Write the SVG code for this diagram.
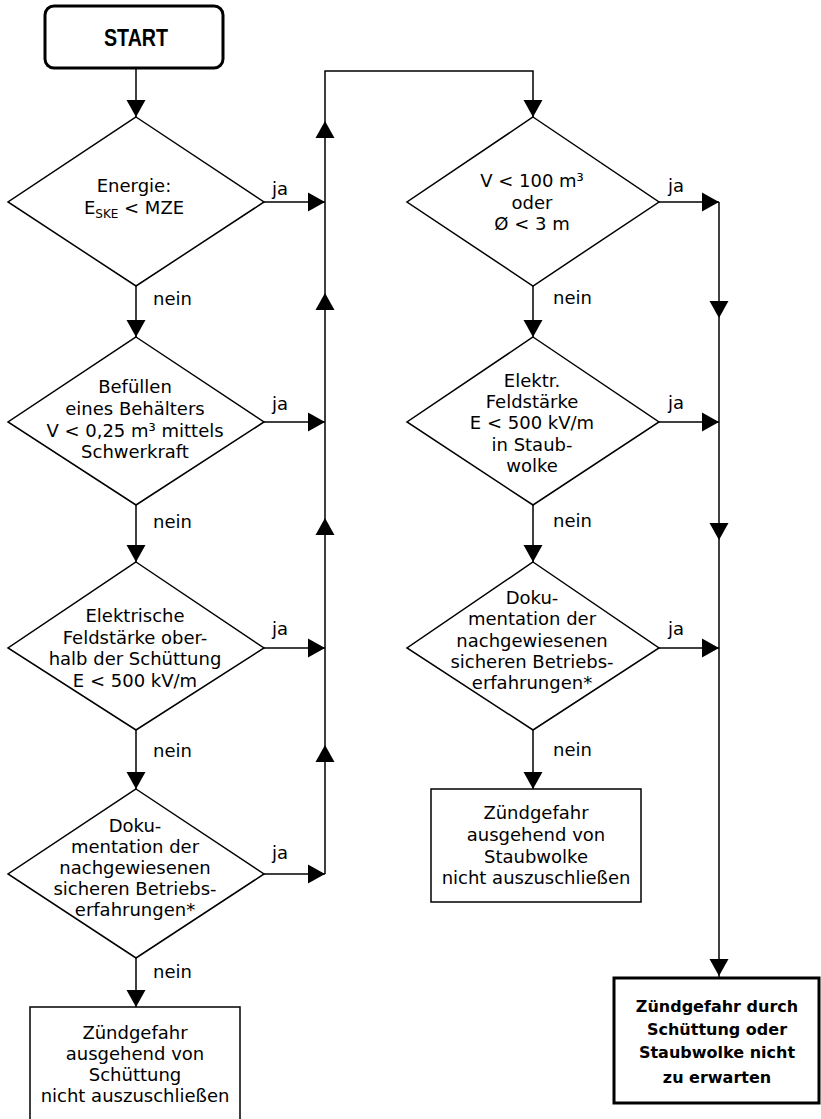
<svg xmlns="http://www.w3.org/2000/svg" xmlns:xlink="http://www.w3.org/1999/xlink" width="821" height="1119" viewBox="0 0 821 1119">
<style>
  .shape { fill: #fff; stroke: #000; stroke-width: 1.5; }
  .thick { fill: #fff; stroke: #000; stroke-width: 3; }
  .line { fill: none; stroke: #000; stroke-width: 1.5; }
  .t { font-family: "DejaVu Sans", "Liberation Sans", sans-serif; font-size: 18px; text-anchor: middle; fill: #000; }
  .lbl { font-family: "DejaVu Sans", "Liberation Sans", sans-serif; font-size: 18px; fill: #000; }
  .b { font-family: "DejaVu Sans", "Liberation Sans", sans-serif; font-size: 16px; font-weight: bold; text-anchor: middle; fill: #000; }
  .sub { font-size: 12px; }
</style>
<defs>
  <path id="ad" d="M0,0 L-9.5,-17 L9.5,-17 Z" fill="#000"/>
  <path id="au" d="M0,0 L-9.5,17 L9.5,17 Z" fill="#000"/>
  <path id="ar" d="M0,0 L-17,-9.5 L-17,9.5 Z" fill="#000"/>
</defs>
<rect width="821" height="1119" fill="#fff"/>

<g id="connectors">
  <path class="line" d="M136,68 V117"/>
  <path class="line" d="M136,286 V337"/>
  <path class="line" d="M136,505 V562"/>
  <path class="line" d="M136,730 V789"/>
  <path class="line" d="M136,958 V1007"/>
  <path class="line" d="M263,202 H325"/>
  <path class="line" d="M263,422 H325"/>
  <path class="line" d="M263,648 H325"/>
  <path class="line" d="M263,874 H325"/>
  <path class="line" d="M325,874 V71 H533 V117"/>
  <path class="line" d="M533,286 V337"/>
  <path class="line" d="M533,505 V562"/>
  <path class="line" d="M533,730 V789"/>
  <path class="line" d="M659,202 H719"/>
  <path class="line" d="M659,422 H719"/>
  <path class="line" d="M659,648 H719"/>
  <path class="line" d="M719,202 V977"/>
  <use xlink:href="#ad" x="136" y="117"/>
  <use xlink:href="#ad" x="136" y="337"/>
  <use xlink:href="#ad" x="136" y="562"/>
  <use xlink:href="#ad" x="136" y="789"/>
  <use xlink:href="#ad" x="136" y="1007"/>
  <use xlink:href="#ar" x="325" y="202"/>
  <use xlink:href="#ar" x="325" y="422"/>
  <use xlink:href="#ar" x="325" y="648"/>
  <use xlink:href="#ar" x="325" y="874"/>
  <use xlink:href="#au" x="325" y="121"/>
  <use xlink:href="#au" x="325" y="293"/>
  <use xlink:href="#au" x="325" y="518"/>
  <use xlink:href="#au" x="325" y="745"/>
  <use xlink:href="#ad" x="533" y="117"/>
  <use xlink:href="#ad" x="533" y="337"/>
  <use xlink:href="#ad" x="533" y="562"/>
  <use xlink:href="#ad" x="533" y="789"/>
  <use xlink:href="#ar" x="719" y="202"/>
  <use xlink:href="#ar" x="719" y="422"/>
  <use xlink:href="#ar" x="719" y="648"/>
  <use xlink:href="#ad" x="719" y="318"/>
  <use xlink:href="#ad" x="719" y="540"/>
  <use xlink:href="#ad" x="719" y="976"/>
  <text class="lbl" x="272" y="195">ja</text>
  <text class="lbl" x="272" y="410">ja</text>
  <text class="lbl" x="272" y="635">ja</text>
  <text class="lbl" x="272" y="859">ja</text>
  <text class="lbl" x="668" y="192">ja</text>
  <text class="lbl" x="668" y="409">ja</text>
  <text class="lbl" x="668" y="635">ja</text>
  <text class="lbl" x="153" y="305">nein</text>
  <text class="lbl" x="153" y="528">nein</text>
  <text class="lbl" x="153" y="757">nein</text>
  <text class="lbl" x="153" y="978">nein</text>
  <text class="lbl" x="553" y="304">nein</text>
  <text class="lbl" x="553" y="527">nein</text>
  <text class="lbl" x="553" y="756">nein</text>
</g>

<g id="start">
  <rect class="thick" x="45" y="6" width="178" height="62" rx="9"/>
  <text x="136" y="46" font-family="Liberation Sans, sans-serif" font-size="24" font-weight="bold" text-anchor="middle" textLength="64" lengthAdjust="spacingAndGlyphs">START</text>
</g>

<g id="d1">
  <polygon class="shape" points="136,117 264,202 136,286 8,202"/>
  <text class="t" x="134" y="192">Energie:</text>
  <text class="t" x="134" y="214">E<tspan class="sub" dy="4">SKE</tspan><tspan dy="-4"> &lt; MZE</tspan></text>
</g>

<g id="d2">
  <polygon class="shape" points="136,337 264,422 136,505 8,422"/>
  <text class="t" x="135" y="393">Befüllen</text>
  <text class="t" x="135" y="414.5">eines Behälters</text>
  <text class="t" x="135" y="436.5">V &lt; 0,25 m³ mittels</text>
  <text class="t" x="135" y="458">Schwerkraft</text>
</g>

<g id="d3">
  <polygon class="shape" points="136,562 264,648 136,730 8,648"/>
  <text class="t" x="135" y="621.5">Elektrische</text>
  <text class="t" x="135" y="643.5">Feldstärke ober-</text>
  <text class="t" x="135" y="664.5">halb der Schüttung</text>
  <text class="t" x="135" y="686.5">E &lt; 500 kV/m</text>
</g>

<g id="d4">
  <polygon class="shape" points="136,789 264,874 136,958 8,874"/>
  <text class="t" x="135" y="831.5">Doku-</text>
  <text class="t" x="135" y="852.5">mentation der</text>
  <text class="t" x="135" y="873.5">nachgewiesenen</text>
  <text class="t" x="135" y="894.5">sicheren Betriebs-</text>
  <text class="t" x="135" y="916">erfahrungen*</text>
</g>

<g id="box-left">
  <rect class="shape" x="30" y="1007" width="210" height="120"/>
  <text class="t" x="135" y="1039">Zündgefahr</text>
  <text class="t" x="135" y="1060">ausgehend von</text>
  <text class="t" x="135" y="1081">Schüttung</text>
  <text class="t" x="135" y="1102">nicht auszuschließen</text>
</g>

<g id="r1">
  <polygon class="shape" points="533,117 659,202 533,286 407,202"/>
  <text class="t" x="532" y="186.5">V &lt; 100 m³</text>
  <text class="t" x="532" y="208.5">oder</text>
  <text class="t" x="532" y="229.5">Ø &lt; 3 m</text>
</g>

<g id="r2">
  <polygon class="shape" points="533,337 659,422 533,505 407,422"/>
  <text class="t" x="532" y="386.5">Elektr.</text>
  <text class="t" x="532" y="408">Feldstärke</text>
  <text class="t" x="532" y="429">E &lt; 500 kV/m</text>
  <text class="t" x="532" y="450.5">in Staub-</text>
  <text class="t" x="532" y="471.5">wolke</text>
</g>

<g id="r3">
  <polygon class="shape" points="533,562 659,648 533,730 407,648"/>
  <text class="t" x="532" y="603.5">Doku-</text>
  <text class="t" x="532" y="624.5">mentation der</text>
  <text class="t" x="532" y="646.5">nachgewiesenen</text>
  <text class="t" x="532" y="668">sicheren Betriebs-</text>
  <text class="t" x="532" y="688.5">erfahrungen*</text>
</g>

<g id="box-right">
  <rect class="shape" x="431" y="789" width="210" height="113"/>
  <text class="t" x="536" y="819">Zündgefahr</text>
  <text class="t" x="536" y="841">ausgehend von</text>
  <text class="t" x="536" y="863">Staubwolke</text>
  <text class="t" x="536" y="884">nicht auszuschließen</text>
</g>

<g id="box-final">
  <rect class="thick" x="614" y="978" width="205" height="125"/>
  <text class="b" x="717" y="1012">Zündgefahr durch</text>
  <text class="b" x="717" y="1035">Schüttung oder</text>
  <text class="b" x="717" y="1058">Staubwolke nicht</text>
  <text class="b" x="717" y="1083">zu erwarten</text>
</g>
</svg>
